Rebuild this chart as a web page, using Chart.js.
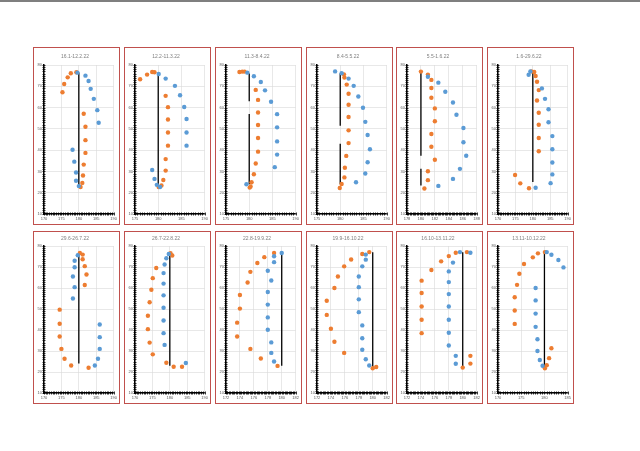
<!DOCTYPE html>
<html><head><meta charset="utf-8">
<script src="https://cdn.jsdelivr.net/npm/chart.js@4/dist/chart.umd.min.js"></script>
<style>
html,body{margin:0;padding:0;background:#fff;width:640px;height:451px;overflow:hidden;position:relative}
#topbar{position:absolute;left:0;top:0;width:640px;height:2px;background:#7f7f7f}
.box{position:absolute;width:87px;border:1px solid #c0504d;box-sizing:border-box;background:#fff}
.box canvas{position:absolute;left:0;top:0}
</style></head><body>
<div id="topbar"></div>
<script>
// ---- data ----
const titles = ["16.1-12.2.22","12.2-11.3.22","11.3-8.4.22","8.4-5.5.22","5.5-1.6.22","1.6-29.6.22",
                "29.6-26.7.22","26.7-22.8.22","22.8-19.9.22","19.9-16.10.22","16.10-13.11.22","13.11-10.12.22"];
const xMin  = [170,175,175,175,178,170,170,170,172,172,172,170];
const xMax  = [190,190,190,190,188,190,190,190,182,182,182,185];
const xStep = [5,5,5,5,2,5,5,5,2,2,2,5];
const yTicks = [10,20,30,40,50,60,70,80];

const blue1 = [[179.6,76.4],[181.9,75.0],[182.8,72.5],[183.4,68.8],[184.3,64.1],[185.3,58.8],[185.7,52.9],[178.2,40.2],[178.7,34.6],[179.2,29.5],[179.2,25.6],[180.0,23.1]];
const orange1 = [[175.3,67.2],[175.8,71.1],[176.8,74.2],[177.7,76.1],[179.3,76.6],[181.4,57.1],[181.9,51.0],[181.9,44.7],[181.9,38.7],[181.4,33.2],[181.2,28.1],[181.0,24.6],[180.5,22.7]];
const vline1 = [[180,76.5],[180,23]];

const blue2 = [[180.1,75.8],[181.6,73.6],[183.6,70.2],[184.7,65.8],[185.6,60.3],[186.1,54.6],[186.1,48.3],[186.1,42.1],[178.7,30.7],[179.2,26.5],[179.7,23.7],[180.4,22.7]];
const orange2 = [[176.1,73.3],[177.6,75.5],[178.7,76.7],[179.2,76.6],[181.6,65.5],[182.1,60.2],[182.1,54.4],[182.1,48.3],[182.1,42.1],[181.6,35.8],[181.6,30.4],[181.1,26.0],[180.7,23.4],[180.1,22.7]];
const vline2 = [[180,76],[180,23]];

const blue3 = [[179.6,76.4],[181.0,74.7],[182.5,72.0],[183.4,68.1],[184.7,62.7],[186.0,56.9],[186.0,50.7],[186.0,44.1],[186.0,37.9],[185.5,32.0],[179.4,24.0]];
const orange3 = [[177.9,76.7],[178.5,76.9],[179.0,76.9],[181.4,68.3],[181.9,63.6],[181.9,57.7],[181.9,51.8],[181.9,45.7],[181.9,39.3],[181.4,33.7],[181.0,28.7],[180.5,24.9],[180.3,22.9],[180.1,22.4]];
const vline3 = [[180,76],[180,63],[180,null],[180,57],[180,24]];

const blue4 = [[178.9,77.0],[180.3,76.1],[181.8,73.6],[182.9,70.2],[183.9,65.2],[184.9,59.9],[185.4,53.3],[185.9,47.1],[186.4,40.4],[185.9,34.3],[185.4,29.0],[183.4,24.9]];
const orange4 = [[180.8,75.6],[180.9,74.1],[181.4,70.8],[181.8,66.5],[181.8,61.3],[181.8,55.6],[181.8,49.3],[181.8,43.3],[181.3,37.3],[181.0,31.7],[180.9,27.2],[180.3,24.1],[179.9,22.2]];
const vline4 = [[180,76],[180,51.5],[180,null],[180,43],[180,24]];

const blue5 = [[181.0,74.5],[182.5,71.7],[183.5,67.4],[184.6,62.4],[185.1,56.6],[186.1,50.4],[186.1,43.7],[186.5,37.4],[185.6,31.2],[184.6,26.5],[182.5,23.2]];
const orange5 = [[180.0,76.9],[181.0,75.5],[181.5,73.0],[181.5,69.2],[181.5,64.6],[182.0,59.6],[182.0,53.6],[181.5,47.6],[181.5,41.6],[182.0,35.5],[181.0,30.1],[181.0,25.9],[180.5,22.0]];
const vline5 = [[180,76.4],[180,37.4],[180,null],[180,31.2],[180,23.4]];

const blue6 = [[178.8,75.4],[179.3,77.0],[182.6,69.0],[183.5,64.1],[184.5,59.2],[184.5,53.1],[185.6,46.6],[185.6,40.4],[185.6,34.2],[185.6,28.6],[185.1,24.5],[180.8,22.3]];
const orange6 = [[179.6,77.0],[180.4,76.7],[180.8,74.8],[181.2,72.1],[181.7,68.2],[181.2,63.3],[181.7,57.6],[181.7,51.9],[181.7,45.7],[181.7,39.5],[174.9,28.3],[176.4,24.4],[178.9,22.1]];
const vline6 = [[180,77],[180,25]];

const blue7 = [[179.7,75.6],[178.8,73.0],[178.8,69.9],[178.3,65.5],[178.8,60.4],[178.3,55.0],[186.0,42.6],[186.0,36.6],[186.0,31.0],[185.5,26.3],[184.6,23.1]];
const orange7 = [[180.3,76.7],[181.1,75.9],[181.1,73.7],[181.7,70.4],[182.2,66.4],[181.7,61.4],[174.5,49.7],[174.5,43.0],[174.5,36.9],[175.0,31.0],[175.9,26.3],[177.8,23.1],[182.8,22.0]];
const vline7 = [[180,77],[180,24]];

const blue8 = [[179.7,76.2],[179.0,74.2],[178.5,71.2],[178.2,67.1],[178.2,62.1],[178.2,56.5],[178.2,50.6],[178.2,44.5],[178.2,38.5],[178.5,32.9],[184.6,24.3]];
const orange8 = [[180.2,76.6],[180.7,75.5],[176.1,69.5],[175.1,64.7],[174.7,59.2],[174.2,53.2],[173.7,46.8],[173.7,40.4],[174.2,34.0],[175.1,28.4],[179.0,24.4],[181.1,22.5],[183.5,22.5]];
const vline8 = [[180,76],[180,23]];

const blue9 = [[180.0,76.7],[178.9,75.1],[178.9,72.3],[178.0,68.2],[178.5,63.6],[178.0,58.1],[178.0,52.1],[178.0,46.0],[178.0,40.1],[178.5,34.1],[178.5,29.1],[178.9,25.0]];
const orange9 = [[178.9,76.7],[177.5,74.7],[176.5,71.9],[175.5,67.7],[175.1,62.6],[174.0,56.7],[174.0,50.2],[173.6,43.5],[173.6,36.9],[175.5,31.0],[177.0,26.4],[179.4,22.9]];
const vline9 = [[180,76.7],[180,23]];

const blue10 = [[179.0,75.9],[179.0,73.5],[178.5,70.3],[178.0,65.5],[178.0,60.4],[178.0,54.6],[178.0,48.5],[178.5,42.2],[178.5,36.1],[178.5,30.6],[179.0,26.1],[179.5,23.1]];
const orange10 = [[178.5,76.2],[179.5,77.1],[176.9,73.6],[175.9,70.3],[175.0,65.5],[174.5,60.0],[173.4,53.9],[173.4,47.2],[174.0,40.6],[174.5,34.4],[175.9,29.1],[180.0,21.8],[180.5,22.4]];
const vline10 = [[180,77],[180,22]];

const blue11 = [[179.6,77.1],[181.1,76.8],[178.6,72.1],[178.0,67.9],[178.0,62.8],[178.0,57.1],[178.0,51.2],[178.0,44.9],[178.0,38.7],[178.0,32.6],[179.0,27.7],[179.0,23.9]];
const orange11 = [[179.0,76.8],[180.6,77.1],[178.0,75.2],[176.9,72.7],[175.5,68.6],[174.1,63.5],[174.1,57.6],[174.1,51.2],[174.1,44.9],[174.1,38.5],[180.0,22.1],[181.1,27.7],[181.1,24.0]];
const vline11 = [[180,77],[180,22]];

const blue12 = [[180.5,77.1],[181.5,75.8],[183.0,73.3],[184.1,69.8],[178.1,60.0],[178.1,54.1],[178.1,47.8],[178.1,41.5],[178.5,35.6],[178.5,30.0],[179.0,25.7],[179.6,23.0]];
const orange12 = [[180.1,77.1],[178.6,76.5],[177.5,74.6],[175.6,71.4],[174.6,66.8],[174.1,61.5],[173.6,55.6],[173.6,49.3],[173.6,42.9],[181.5,31.3],[181.0,26.6],[180.5,23.2],[180.1,21.8]];
const vline12 = [[180,77],[180,22]];

const blueSets = [blue1,blue2,blue3,blue4,blue5,blue6,blue7,blue8,blue9,blue10,blue11,blue12];
const orangeSets = [orange1,orange2,orange3,orange4,orange5,orange6,orange7,orange8,orange9,orange10,orange11,orange12];
const vlineSets = [vline1,vline2,vline3,vline4,vline5,vline6,vline7,vline8,vline9,vline10,vline11,vline12];

// ---- layout ----
const boxLeft = [33,124,215,306,396,487];
const boxTop = [47,231];
const boxH = [178,173];
const titlePadTop = [6,4];
const titlePadBot = [5,4];
const BW = 87;
const FONT = "'Liberation Sans', Arial, sans-serif";

const toPts = arr => arr.map(p => ({x:p[0], y:p[1]}));

const minorTicks = {
  id:'minorTicks',
  afterDraw(chart, args, opts){
    const ctx = chart.ctx, xs = chart.scales.x, ys = chart.scales.y;
    ctx.save();
    ctx.strokeStyle = '#000';
    ctx.lineWidth = 0.8;
    ctx.beginPath();
    const xst = opts.xStep/10;
    for(let v = xs.min; v <= xs.max + 1e-9; v += xst){
      const px = Math.round(xs.getPixelForValue(v)) + 0.5;
      ctx.moveTo(px, ys.bottom - 1.5); ctx.lineTo(px, ys.bottom + 1.5);
    }
    for(let v = ys.min; v <= ys.max + 1e-9; v += 1){
      const py = Math.round(ys.getPixelForValue(v)) + 0.5;
      ctx.moveTo(xs.left - 1.5, py); ctx.lineTo(xs.left + 1.5, py);
    }
    ctx.stroke();
    ctx.restore();
  }
};

for(let i=0;i<12;i++){
  const row = Math.floor(i/6);
  const BH = boxH[row];
  const box = document.createElement('div');
  box.className = 'box';
  box.style.left = boxLeft[i%6] + 'px';
  box.style.top = boxTop[row] + 'px';
  box.style.height = BH + 'px';
  const cv = document.createElement('canvas');
  cv.width = BW-2; cv.height = BH-2;
  cv.style.width = (BW-2)+'px'; cv.style.height = (BH-2)+'px';
  box.appendChild(cv);
  document.body.appendChild(box);

  new Chart(cv, {
    type:'scatter',
    data:{datasets:[
      {data: toPts(blueSets[i]), backgroundColor:'#5b9bd5', borderColor:'#5b9bd5', borderWidth:0, pointRadius:2.2},
      {data: toPts(orangeSets[i]), backgroundColor:'#ed7d31', borderColor:'#ed7d31', borderWidth:0, pointRadius:2.2},
      {data: toPts(vlineSets[i]), showLine:true, spanGaps:false, borderColor:'#000', borderWidth:1.3, pointRadius:0, backgroundColor:'#000'}
    ]},
    options:{
      responsive:false, animation:false, devicePixelRatio:1,
      layout:{padding:{left:1,right:4,top:0,bottom:1}},
      plugins:{
        legend:{display:false}, tooltip:{enabled:false},
        title:{display:true, text:titles[i], color:'#7f7f7f', font:{size:5, family:FONT, weight:'normal'}, padding:{top:titlePadTop[row],bottom:titlePadBot[row]}},
        minorTicks:{xStep:xStep[i]}
      },
      scales:{
        x:{type:'linear', min:xMin[i], max:xMax[i],
           ticks:{stepSize:xStep[i], font:{size:4, family:FONT}, color:'#595959', padding:2, maxRotation:0, autoSkip:false},
           grid:{color:'#d9d9d9', lineWidth:0.6, drawTicks:false},
           border:{color:'#000', width:1.5},
           afterFit:s=>{s.height=9;}},
        y:{type:'linear', min:10, max:80,
           afterBuildTicks:s=>{s.ticks = yTicks.map(v=>({value:v}));},
           ticks:{font:{size:4, family:FONT}, color:'#595959', padding:2},
           grid:{color:'#d9d9d9', lineWidth:0.6, drawTicks:false},
           border:{color:'#000', width:1.5},
           afterFit:s=>{s.width=9;}}
      }
    },
    plugins:[minorTicks]
  });
}
</script>
</body></html>
